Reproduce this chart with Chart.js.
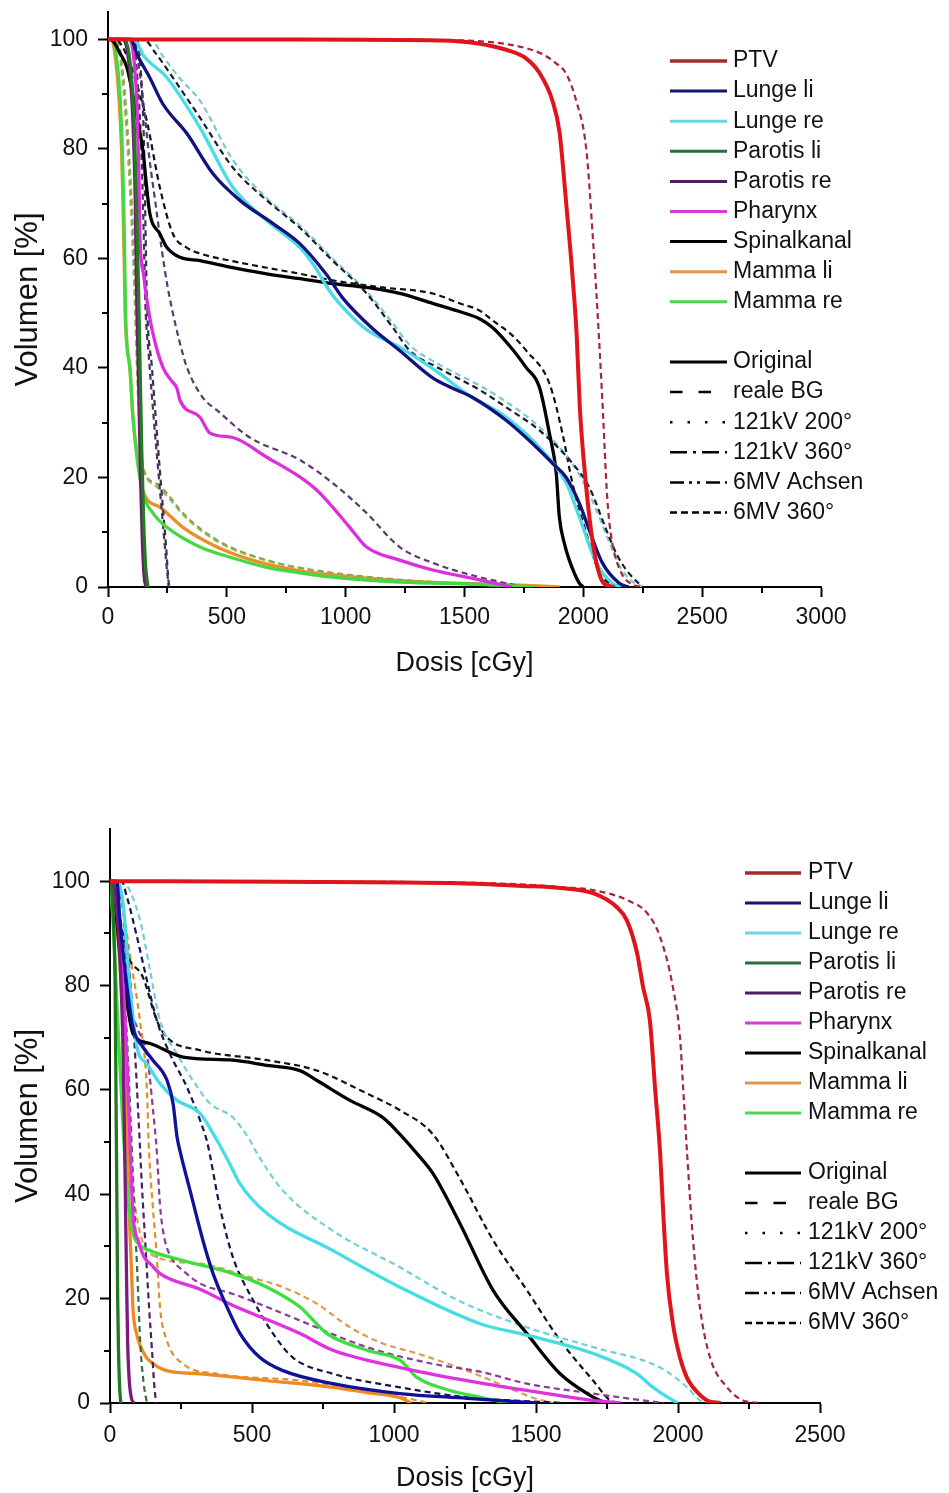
<!DOCTYPE html>
<html>
<head>
<meta charset="utf-8">
<script src="https://cdn.jsdelivr.net/npm/chart.js@4.4.0/dist/chart.umd.min.js"></script>
<style>
  html, body { margin: 0; padding: 0; background: #fff; overflow: hidden; }
  #page { position: relative; width: 949px; height: 1493px; overflow: hidden; }
  canvas { position: absolute; left: 0; }
  #dvhTop { top: -40px; }
  #dvhBottom { top: 780px; }
</style>
</head>
<body>
<div id="page">
  <canvas id="dvhTop" width="949" height="730"></canvas>
  <canvas id="dvhBottom" width="949" height="713"></canvas>
</div>
<script>
// ---- Labels -------------------------------------------------------------
const organs = ['PTV', 'Lunge li', 'Lunge re', 'Parotis li', 'Parotis re', 'Pharynx', 'Spinalkanal', 'Mamma li', 'Mamma re'];
const variants = ['Original', 'reale BG', '121kV 200°', '121kV 360°', '6MV Achsen', '6MV 360°'];

// ---- Axis ticks ---------------------------------------------------------
const topDoseTicks = [0, 500, 1000, 1500, 2000, 2500, 3000];
const topDoseMinor = [250, 750, 1250, 1750, 2250, 2750];
const botDoseTicks = [0, 500, 1000, 1500, 2000, 2500];
const botDoseMinor = [250, 750, 1250, 1750, 2250];
const volTicks = [0, 20, 40, 60, 80, 100];
const volMinor = [10, 30, 50, 70, 90];

// ---- Upper plot: Original curves [Dosis cGy, Volumen %] ------------------
const topPTV = [[0,100],[800,100],[1400,99.8],[1550,99.3],[1690,97.9],[1760,96.5],[1815,93.9],[1870,88.8],[1900,83],[1928,70],[1954,57],[1972,46],[1985,33],[2004,22],[2034,9.8],[2060,3.5],[2085,0.7],[2130,0]];
const topLungeLi = [[0,100],[95,100],[125,97],[176,93],[231,88.2],[332,82.8],[441,75.5],[555,70.6],[693,66.4],[807,62.7],[920,57],[987,52.8],[1113,47.2],[1227,43.2],[1366,38.2],[1450,36.3],[1534,34.6],[1676,30.4],[1786,26.2],[1870,22.6],[1928,20],[1983,15.3],[2025,10.4],[2080,4.4],[2151,0.7],[2190,0]];
const topLungeRe = [[0,100],[110,100],[150,97],[248,93],[387,83.9],[525,73],[668,66.9],[807,62],[870,58.5],[933,54],[1000,50.5],[1088,47],[1227,43.8],[1395,39],[1508,35.3],[1676,31],[1815,25.5],[1928,19],[1983,12.8],[2055,4.4],[2122,0.7],[2160,0]];
const topParotisLi = [[0,100],[70,100],[95,95],[110,85],[120,70],[128,55],[135,40],[142,25],[150,12],[158,4],[168,0]];
const topParotisRe = [[0,100],[63,100],[90,95],[105,85],[115,70],[120,55],[125,45],[130,35],[137,20],[145,8],[152,2],[160,0]];
const topPharynx = [[0,100],[90,100],[110,96],[122,88],[130,75],[134,64.5],[150,57],[164,52.3],[189,46.3],[231,40.1],[270,37.5],[290,36.3],[303,34.1],[387,31],[429,28.1],[525,27.3],[668,23.7],[807,20.1],[878,17.7],[945,14.6],[1017,10.9],[1088,7.3],[1227,4.9],[1366,3.1],[1563,1.3],[1700,0]];
const topSpinal = [[0,100],[21,99.7],[50,97.5],[80,94.8],[122,85.7],[147,79.7],[164,72.4],[176,68.2],[218,64.5],[248,62],[303,60.2],[387,59.6],[525,58.3],[668,57.2],[807,56.3],[945,55.4],[1088,54.7],[1227,53.6],[1366,51.8],[1479,50.3],[1563,49],[1618,47.4],[1700,43.5],[1759,40.1],[1815,36.5],[1857,28.1],[1886,20.8],[1899,12.8],[1920,8],[1941,4.9],[1983,0.7],[2000,0]];
const topMammaLi = [[0,100],[15,100],[30,97],[45,90],[57,80],[63,70],[68,60],[72,50],[80,44],[92,40],[105,31],[122,24],[147,17.5],[218,14.6],[315,10.9],[450,7.5],[600,5],[800,3],[1000,2],[1300,1],[1700,0.4],[1900,0]];
const topMammaRe = [[0,100],[20,100],[35,97],[50,90],[60,80],[66,70],[70,60],[74,50],[80,44],[92,40.1],[105,31],[122,23.7],[147,17.1],[189,13.5],[248,10.9],[387,7.3],[525,5.3],[668,3.6],[807,2.6],[945,1.8],[1227,0.9],[1563,0.5],[1800,0]];

// ---- Upper plot: 6MV 360° curves ----------------------------------------
const top6PTV = [[0,100],[900,100],[1500,99.8],[1650,99.3],[1750,98.5],[1828,97.3],[1880,95.8],[1928,93.7],[1970,88.8],[2013,79.7],[2039,64.5],[2060,50],[2080,34.1],[2101,16],[2120,8.5],[2139,4.9],[2170,1.8],[2200,0.6],[2240,0]];
const top6LungeLi = [[0,100],[150,100],[200,97.5],[273,93],[387,85.7],[525,76.6],[668,70.6],[807,65.6],[945,59.6],[1088,53.6],[1198,47.4],[1269,43.2],[1395,39.9],[1563,36],[1676,32.8],[1815,28.6],[1954,22.6],[2025,18.2],[2097,10.4],[2140,6],[2181,3.1],[2248,0]];
const top6LungeRe = [[0,100],[180,100],[230,97],[300,93],[387,88.8],[525,78],[668,71],[807,66],[945,60],[1088,54],[1198,48.2],[1269,44.2],[1395,40.6],[1563,36.8],[1676,33.8],[1815,29.2],[1954,22.5],[2025,17],[2097,9.5],[2150,4],[2200,1.2],[2250,0]];
const top6ParotisLi = [[0,100],[120,100],[140,93],[152,80],[158,65],[164,52],[185,40],[206,28],[230,15],[245,7],[255,1],[262,0]];
const top6ParotisRe = [[0,100],[105,100],[125,92],[140,80],[150,65],[157,52],[172,42],[192,31],[212,21],[230,12],[244,5],[255,0]];
const top6Pharynx = [[0,100],[110,100],[130,95],[150,88],[175,78],[200,70],[225,62],[250,55],[273,50],[300,45],[332,40.1],[399,34.6],[458,32.3],[597,27.3],[807,23.2],[945,19],[1088,13.5],[1227,7.3],[1366,4.4],[1563,1.8],[1750,0]];
const top6Spinal = [[0,100],[30,100],[80,97],[120,92],[164,85],[218,73],[273,64.5],[330,62],[387,60.9],[525,59.5],[668,58.3],[807,57.2],[945,56],[1156,54.7],[1366,53.6],[1479,51.8],[1563,50.5],[1618,48.7],[1700,46],[1759,43.2],[1857,37.2],[1912,28.1],[1954,19],[2013,9.8],[2067,2.6],[2109,0.7],[2130,0]];
const top6MammaLi = [[0,100],[40,100],[60,95],[80,85],[100,70],[115,55],[125,42],[135,30],[147,21.9],[200,19],[248,17.1],[315,13.5],[458,8.6],[668,4.9],[945,2.6],[1366,0.9],[1800,0]];
const top6MammaRe = [[0,100],[35,100],[55,95],[75,85],[95,70],[110,55],[120,42],[130,31],[145,22.5],[200,18.5],[250,16.5],[320,13],[460,8.3],[670,4.8],[950,2.4],[1370,0.8],[1800,0]];

// ---- Lower plot: Original curves ----------------------------------------
const botPTV = [[0,100],[600,99.9],[1232,99.6],[1450,99.1],[1585,98.7],[1701,97.7],[1785,95],[1820,92.5],[1856,86.2],[1877,79.7],[1901,73.3],[1919,60.5],[1937,48],[1947,37.5],[1961,24.8],[1982,15.2],[2007,8.7],[2030,5],[2053,3],[2102,0.5],[2150,0]];
const botLungeLi = [[0,100],[24,100],[35,92.5],[60,79.7],[81,72],[116,68.2],[151,65.7],[201,61.8],[222,57.4],[236,51],[250,47.5],[282,40.7],[327,31.2],[363,24.8],[412,18.4],[458,13.3],[528,8.7],[609,6.2],[785,3.7],[1021,1.8],[1257,0.9],[1500,0]];
const botLungeRe = [[0,100],[20,100],[46,95.7],[70,79.7],[95,68.2],[130,65],[176,61.2],[236,58],[317,55.5],[377,50.3],[420,46],[458,42],[553,36.3],[785,29.2],[1021,22.2],[1303,15.2],[1468,13],[1701,9.5],[1856,5.6],[1912,3],[1982,0.5],[2000,0]];
const botParotisLi = [[0,100],[8,97],[14,90],[18,80],[21,60],[24,40],[27,20],[30,10],[34,3],[38,0]];
const botParotisRe = [[0,100],[10,100],[22,96],[35,85],[45,70],[50,55],[54,40],[58,25],[62,12],[67,5],[75,1],[85,0]];
const botPharynx = [[0,100],[10,100],[25,94],[40,85],[50,77],[60,65],[70,50.3],[81,36],[100,31],[120,28],[145,26.5],[176,24.8],[317,21.8],[433,18.7],[553,16],[669,13.3],[785,10.1],[1021,6.8],[1257,4.3],[1468,2.4],[1701,0.5],[1800,0]];
const botSpinal = [[0,100],[11,98.9],[35,86.2],[60,76.6],[81,70.8],[141,68.9],[257,66.3],[433,65.7],[553,64.7],[669,63.7],[729,61.8],[845,58],[961,54.7],[1021,51.5],[1081,47.8],[1137,44],[1232,34.4],[1349,21.6],[1468,13.3],[1585,5.6],[1680,1.8],[1725,0.5],[1750,0]];
const botMammaLi = [[0,100],[15,96],[30,88],[45,75],[55,60],[63,45],[70,33],[76,25],[81,18],[95,13],[106,11],[125,9],[141,8],[200,6.2],[317,5.6],[553,4.3],[785,3],[905,2],[1021,1],[1060,0]];
const botMammaRe = [[0,100],[10,93],[20,82],[30,70],[42,57],[55,45],[68,37],[81,32.5],[100,30.5],[141,29.2],[257,27.3],[433,24.8],[553,22.2],[669,18.4],[764,13.3],[905,10.1],[1021,8.2],[1081,4.9],[1197,2.4],[1303,1.1],[1400,0]];

// ---- Lower plot: 6MV 360° curves ----------------------------------------
const bot6PTV = [[0,100],[800,99.9],[1400,99.5],[1600,98.8],[1701,98.3],[1820,96.4],[1891,93.9],[1937,89.3],[1982,79.7],[2007,70.1],[2018,60.5],[2032,47.8],[2053,31.2],[2077,18.4],[2113,8.7],[2173,3],[2229,0.5],[2290,0]];
const bot6LungeLi = [[0,100],[40,100],[60,96.9],[95,89.3],[130,81],[165,73.3],[211,66.9],[271,60.5],[317,54.2],[342,50],[387,37.5],[433,27.9],[504,19.7],[574,13.3],[644,8.7],[785,5.6],[1021,3],[1257,1.1],[1600,0]];
const bot6LungeRe = [[0,100],[40,100],[106,92.5],[141,82.9],[176,73.3],[236,66.9],[292,61.8],[352,57.4],[433,54.7],[493,50.3],[518,47.8],[609,40.7],[785,33],[1021,26],[1232,19.5],[1468,14.5],[1701,10.7],[1937,6.8],[2032,3],[2077,0.5],[2100,0]];
const bot6ParotisLi = [[0,100],[15,100],[30,93],[45,82],[60,70],[72,55],[82,42],[92,30],[100,20],[106,12],[118,4],[130,0]];
const bot6ParotisRe = [[0,100],[25,100],[45,95],[65,85],[85,70],[100,55],[112,42],[125,30],[138,18],[148,10],[155,4],[162,0]];
const bot6Pharynx = [[0,100],[20,100],[46,95.7],[60,80],[95,72],[130,66.9],[150,57],[165,48],[176,38],[190,32],[220,27.5],[257,25.4],[317,22.9],[433,20.9],[553,18.4],[669,15.8],[905,10.7],[1137,7.5],[1303,6],[1468,3.7],[1701,1.8],[1877,0.5],[1950,0]];
const bot6Spinal = [[0,100],[25,95.7],[60,86.2],[116,81.6],[165,73.3],[200,70.1],[317,67.6],[553,65.7],[729,63.7],[905,59.3],[1021,56.1],[1137,51.5],[1232,43],[1349,31.2],[1468,21.6],[1585,12],[1701,4.3],[1761,0.5],[1790,0]];
const bot6MammaLi = [[0,100],[20,100],[45,95],[70,86],[106,73],[130,60],[136,50],[151,37.5],[165,27.9],[176,18.4],[200,12],[257,7.5],[377,5.6],[669,4.3],[905,2.4],[1081,0.5],[1120,0]];
const bot6MammaRe = [[0,100],[10,100],[25,92],[40,78],[60,58],[80,42],[100,34],[141,28.6],[317,26.7],[493,24.1],[609,22.2],[729,19],[845,14.5],[961,11.4],[1081,9.5],[1257,6.2],[1400,3],[1500,0.8],[1560,0]];

// ---- Styles -------------------------------------------------------------
const FONT = '"Liberation Sans", Arial, Helvetica, sans-serif';
const topColors = ['#e0141c', '#12127e', '#48dde6', '#1e7e1e', '#6e1872', '#dc2edc', '#000000', '#ec8e26', '#44d844'];
const top6Colors = ['#a3283a', '#1a1a36', '#7ccac8', '#2e3a4a', '#5a2a6a', '#5a3a6a', '#111111', '#8caa44', '#9ab86a'];
const botColors = ['#e0141c', '#10109a', '#44dde6', '#1e7a1e', '#7d1a7d', '#e030e0', '#000000', '#ee8a22', '#3ce03c'];
const bot6Colors = ['#a3283a', '#141450', '#70d0d8', '#3a6a4a', '#4a2060', '#8a3a9a', '#111111', '#e0902a', '#dd9a50'];
const keyColors = ['#a52a2e', '#14146e', '#6cd4dc', '#25703a', '#4e1e5e', '#d23cd2', '#000000', '#e0964a', '#4cd64c'];
const variantDashes = [[], [12.5, 16], [2.5, 15], [17, 6, 3, 6], [14, 5, 3, 5, 3, 6], [7, 4]];

Chart.defaults.font.family = FONT;

function curve(points, color, width, dash, order) {
  return {
    data: points.map(([x, y]) => ({ x, y })),
    borderColor: color,
    borderWidth: width,
    borderDash: dash,
    order: order,
    pointRadius: 0,
    showLine: true,
    fill: false,
    cubicInterpolationMode: 'monotone'
  };
}

// Legend block drawn over the plot area (organs, gap, variant line styles)
const dvhLegend = {
  id: 'dvhLegend',
  afterDraw(chart, args, o) {
    const ctx = chart.ctx;
    ctx.save();
    ctx.font = '23px ' + FONT;
    ctx.textBaseline = 'middle';
    ctx.textAlign = 'left';
    let y = o.y;
    organs.forEach((name, i) => {
      ctx.setLineDash([]);
      ctx.strokeStyle = keyColors[i];
      ctx.lineWidth = i === 0 ? 3.5 : 3;
      ctx.beginPath(); ctx.moveTo(o.x, y); ctx.lineTo(o.x + o.len, y); ctx.stroke();
      ctx.fillStyle = '#111';
      ctx.fillText(name, o.x + o.len + o.gap, y);
      y += o.step;
    });
    y += o.step;
    variants.forEach((name, i) => {
      ctx.setLineDash(variantDashes[i]);
      ctx.strokeStyle = '#000';
      ctx.lineWidth = i === 0 ? 3 : 2.5;
      ctx.beginPath(); ctx.moveTo(o.x, y); ctx.lineTo(o.x + o.len, y); ctx.stroke();
      ctx.setLineDash([]);
      ctx.fillStyle = '#111';
      ctx.fillText(name, o.x + o.len + o.gap, y);
      y += o.step;
    });
    ctx.restore();
  }
};

// Short minor ticks between the labelled ones
const minorTicks = {
  id: 'minorTicks',
  afterDraw(chart, args, o) {
    const { ctx, scales: { x, y } } = chart;
    ctx.save();
    ctx.strokeStyle = '#000';
    ctx.lineWidth = 2;
    ctx.beginPath();
    o.xValues.forEach(v => {
      const px = Math.round(x.getPixelForValue(v));
      ctx.moveTo(px, x.top); ctx.lineTo(px, x.top + o.len);
    });
    o.yValues.forEach(v => {
      const py = Math.round(y.getPixelForValue(v));
      ctx.moveTo(y.right, py); ctx.lineTo(y.right - o.len, py);
    });
    ctx.stroke();
    ctx.restore();
  }
};

function makePlot(id, orig, six, colors, sixColors, cfg) {
  const datasets = [];
  // Mamma li (index 7) sits beneath the other curves
  orig.forEach((pts, i) => datasets.push(curve(pts, colors[i], i === 0 ? 4 : 3.3, [], i === 7 ? 1 : 0)));
  six.forEach((pts, i) => datasets.push(curve(pts, sixColors[i], 2.2, [6, 4], 0)));
  return new Chart(document.getElementById(id), {
    type: 'scatter',
    data: { datasets },
    plugins: [minorTicks, dvhLegend],
    options: {
      responsive: false,
      animation: false,
      events: [],
      layout: { padding: { top: cfg.padTop, right: cfg.padRight, bottom: 0, left: 0 } },
      plugins: {
        legend: { display: false },
        tooltip: { enabled: false },
        minorTicks: { xValues: cfg.doseMinor, yValues: volMinor, len: 6 },
        dvhLegend: cfg.legend
      },
      scales: {
        x: {
          type: 'linear', min: 0, max: cfg.doseMax,
          afterBuildTicks: s => { s.ticks = cfg.doseTicks.map(v => ({ value: v })); },
          afterFit: s => { s.height = cfg.xAxisH; },
          ticks: { color: '#111', font: { size: 23 }, padding: cfg.xTickPad, maxRotation: 0, autoSkip: false, callback: v => String(v) },
          grid: { drawOnChartArea: false, drawTicks: true, tickLength: 10, tickWidth: 2, tickColor: '#000' },
          border: { display: true, color: '#000', width: 2 },
          title: { display: true, text: 'Dosis [cGy]', color: '#111', font: { size: 27 }, padding: { top: 0, bottom: cfg.xTitlePad } }
        },
        y: {
          type: 'linear', min: 0, max: cfg.volMax,
          afterBuildTicks: s => { s.ticks = volTicks.map(v => ({ value: v })); },
          afterFit: s => { s.width = cfg.yAxisW; },
          ticks: { color: '#111', font: { size: 23 }, padding: 10, callback: v => String(v) },
          grid: { drawOnChartArea: false, drawTicks: true, tickLength: 10, tickWidth: 2, tickColor: '#000' },
          border: { display: true, color: '#000', width: 2 },
          title: { display: true, text: 'Volumen [%]', color: '#111', font: { size: 31 }, padding: { top: 10, bottom: 0 } }
        }
      }
    }
  });
}

makePlot('dvhTop',
  [topPTV, topLungeLi, topLungeRe, topParotisLi, topParotisRe, topPharynx, topSpinal, topMammaLi, topMammaRe],
  [top6PTV, top6LungeLi, top6LungeRe, top6ParotisLi, top6ParotisRe, top6Pharynx, top6Spinal, top6MammaLi, top6MammaRe],
  topColors, top6Colors,
  { doseMax: 3000, volMax: 105, doseTicks: topDoseTicks, doseMinor: topDoseMinor,
    padTop: 52, padRight: 128, xAxisH: 103, yAxisW: 108, xTickPad: 7, xTitlePad: 10,
    legend: { x: 670, y: 101, len: 57, gap: 6, step: 30.1 } });

makePlot('dvhBottom',
  [botPTV, botLungeLi, botLungeRe, botParotisLi, botParotisRe, botPharynx, botSpinal, botMammaLi, botMammaRe],
  [bot6PTV, bot6LungeLi, bot6LungeRe, bot6ParotisLi, bot6ParotisRe, bot6Pharynx, bot6Spinal, bot6MammaLi, bot6MammaRe],
  botColors, bot6Colors,
  { doseMax: 2500, volMax: 110, doseTicks: botDoseTicks, doseMinor: botDoseMinor,
    padTop: 49, padRight: 129, xAxisH: 90, yAxisW: 110, xTickPad: 9, xTitlePad: -2,
    legend: { x: 745, y: 93, len: 56, gap: 7, step: 30 } });
</script>
</body>
</html>
